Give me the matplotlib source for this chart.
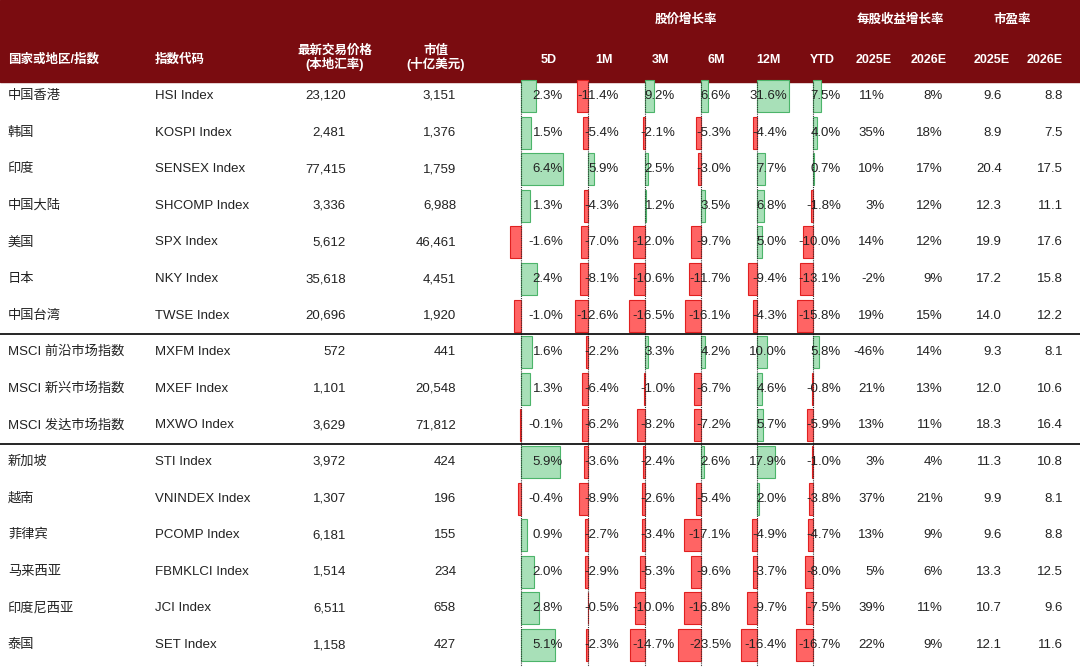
import matplotlib.pyplot as plt
from matplotlib import font_manager
import numpy as np

# find a CJK font actually present and register it
cjk_name = None
for f in font_manager.findSystemFonts():
    if 'CJK' in f and ('Regular' in f or 'Bold' not in f):
        try:
            font_manager.fontManager.addfont(f)
            cjk_name = font_manager.FontProperties(fname=f).get_name()
            break
        except Exception:
            pass
fams = ['Liberation Sans']
if cjk_name:
    fams.append(cjk_name)
fams += ['Noto Sans CJK SC', 'Noto Sans CJK JP', 'DejaVu Sans']
plt.rcParams['font.family'] = fams

# ====================
# Data
# ====================
countries = ['中国香港', '韩国', '印度', '中国大陆', '美国', '日本', '中国台湾',
             'MSCI 前沿市场指数', 'MSCI 新兴市场指数', 'MSCI 发达市场指数',
             '新加坡', '越南', '菲律宾', '马来西亚', '印度尼西亚', '泰国']
codes = ['HSI Index', 'KOSPI Index', 'SENSEX Index', 'SHCOMP Index', 'SPX Index',
         'NKY Index', 'TWSE Index', 'MXFM Index', 'MXEF Index', 'MXWO Index',
         'STI Index', 'VNINDEX Index', 'PCOMP Index', 'FBMKLCI Index', 'JCI Index', 'SET Index']
prices = ['23,120', '2,481', '77,415', '3,336', '5,612', '35,618', '20,696', '572',
          '1,101', '3,629', '3,972', '1,307', '6,181', '1,514', '6,511', '1,158']
mcaps = ['3,151', '1,376', '1,759', '6,988', '46,461', '4,451', '1,920', '441',
         '20,548', '71,812', '424', '196', '155', '234', '658', '427']

ret_5d = [2.3, 1.5, 6.4, 1.3, -1.6, 2.4, -1.0, 1.6, 1.3, -0.1, 5.9, -0.4, 0.9, 2.0, 2.8, 5.1]
ret_1m = [-11.4, -5.4, 5.9, -4.3, -7.0, -8.1, -12.6, -2.2, -6.4, -6.2, -3.6, -8.9, -2.7, -2.9, -0.5, -2.3]
ret_3m = [9.2, -2.1, 2.5, 1.2, -12.0, -10.6, -16.5, 3.3, -1.0, -8.2, -2.4, -2.6, -3.4, -5.3, -10.0, -14.7]
ret_6m = [6.6, -5.3, -3.0, 3.5, -9.7, -11.7, -16.1, 4.2, -6.7, -7.2, 2.6, -5.4, -17.1, -9.6, -16.8, -23.5]
ret_12m = [31.6, -4.4, 7.7, 6.8, 5.0, -9.4, -4.3, 10.0, 4.6, 5.7, 17.9, 2.0, -4.9, -3.7, -9.7, -16.4]
ret_ytd = [7.5, 4.0, 0.7, -1.8, -10.0, -13.1, -15.8, 5.8, -0.8, -5.9, -1.0, -3.8, -4.7, -8.0, -7.5, -16.7]
eps_25 = ['11%', '35%', '10%', '3%', '14%', '-2%', '19%', '-46%', '21%', '13%', '3%', '37%', '13%', '5%', '39%', '22%']
eps_26 = ['8%', '18%', '17%', '12%', '12%', '9%', '15%', '14%', '13%', '11%', '4%', '21%', '9%', '6%', '11%', '9%']
pe_25 = ['9.6', '8.9', '20.4', '12.3', '19.9', '17.2', '14.0', '9.3', '12.0', '18.3',
         '11.3', '9.9', '9.6', '13.3', '10.7', '12.1']
pe_26 = ['8.8', '7.5', '17.5', '11.1', '17.6', '15.8', '12.2', '8.1', '10.6', '16.4',
         '10.8', '8.1', '8.8', '12.5', '9.6', '11.6']

# ====================
# Layout (pixel coordinates)
# ====================
W, H = 1080, 667
row_y = 96 + np.arange(len(countries)) * 36.6
# (values, zero x, px per %, text right x)
bar_cols = [(ret_5d, 521, 6.6, 563), (ret_1m, 588, 1.0, 619), (ret_3m, 645, 1.0, 675),
            (ret_6m, 701, 1.0, 731), (ret_12m, 757, 1.0, 787), (ret_ytd, 813, 1.0, 841)]
col_names = ['5D', '1M', '3M', '6M', '12M', 'YTD']

fig = plt.figure(figsize=(W / 100, H / 100), dpi=100)
ax = fig.add_axes([0, 0, 1, 1])
ax.set_xlim(0, W)
ax.set_ylim(H, 0)
ax.axis('off')

# header
hdr = '#7a0c10'
ax.add_patch(plt.Rectangle((0, 0), W, 82, color=hdr, zorder=0))
hk = dict(color='white', fontsize=9, fontweight='bold', va='center')
ax.text(8, 60, '国家或地区/指数', ha='left', **hk)
ax.text(155, 60, '指数代码', ha='left', **hk)
ax.text(335, 58, '最新交易价格\n(本地汇率)', ha='center', linespacing=1.0, **hk)
ax.text(436, 58, '市值\n(十亿美元)', ha='center', linespacing=1.0, **hk)
for (vals, zx, sc, tx), name in zip(bar_cols, col_names):
    ax.text(tx - 6, 60, name, ha='right', **hk)
ax.text(686, 20, '股价增长率', ha='center', **hk)
ax.text(900, 20, '每股收益增长率', ha='center', **hk)
ax.text(1012, 20, '市盈率', ha='center', **hk)
for x, s in [(874, '2025E'), (929, '2026E'), (992, '2025E'), (1045, '2026E')]:
    ax.text(x, 60, s, ha='center', **hk)

# data bars
for vals, zx, sc, tx in bar_cols:
    v = np.array(vals)
    colors = np.where(v >= 0, '#a8e0b8', '#ff6464')
    edges = np.where(v >= 0, '#4cb46a', '#e02020')
    ax.barh(row_y, v * sc, left=zx, height=32, color=colors, edgecolor=edges,
            linewidth=0.8, zorder=1)
    ax.plot([zx, zx], [82, H], color='#333333', lw=0.8, ls=(0, (1, 1)), zorder=2)
    for y, val in zip(row_y, vals):
        ax.text(tx, y, f'{val:.1f}%', ha='right', va='center', fontsize=9.5,
                color='#222222', zorder=3)

# text columns
tk = dict(fontsize=9.5, color='#222222', va='center')
for i, y in enumerate(row_y):
    ax.text(8, y, countries[i], ha='left', **tk)
    ax.text(155, y, codes[i], ha='left', **tk)
    ax.text(346, y, prices[i], ha='right', **tk)
    ax.text(456, y, mcaps[i], ha='right', **tk)
    ax.text(885, y, eps_25[i], ha='right', **tk)
    ax.text(943, y, eps_26[i], ha='right', **tk)
    ax.text(1002, y, pe_25[i], ha='right', **tk)
    ax.text(1063, y, pe_26[i], ha='right', **tk)

# group separators
for y in [334, 444]:
    ax.plot([0, W], [y, y], color='black', lw=1.2, zorder=4)

plt.savefig('out.png', dpi=100)
